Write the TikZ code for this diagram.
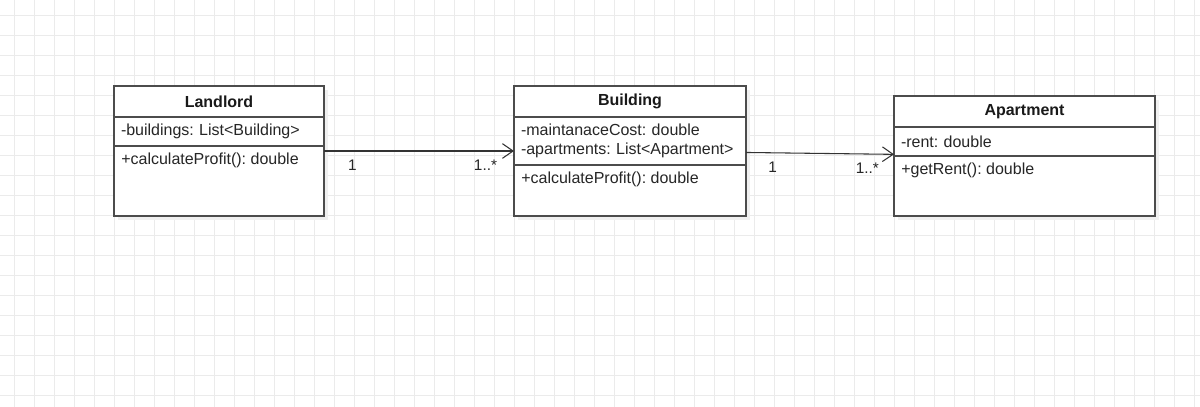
\documentclass[tikz,border=0pt]{standalone}
\usepackage{fontspec}
\setmainfont{Liberation Sans}
\frenchspacing
\usetikzlibrary{arrows.meta, positioning, calc, shadows}

\begin{document}
\begin{tikzpicture}[
    x=0.75pt, y=-0.75pt,
    gridline/.style={draw=black!8, line width=0.75pt},
    classbox/.style={
        rectangle, draw=black!70, line width=1.1pt, fill=white,
        general shadow={fill=black!6, shadow xshift=3pt, shadow yshift=-3pt},
        anchor=north west, inner sep=0pt, outer sep=0pt
    },
    classhead/.style={
        rectangle, draw=black!70, line width=1.1pt, anchor=north west, outer sep=0pt,
        minimum height=23.25pt, text width=#1, align=center, inner xsep=5.25pt,
        font=\fontsize{12}{14.5}\selectfont\bfseries, text=black!90
    },
    classattr/.style={
        rectangle, draw=black!70, line width=1.1pt, anchor=north west, outer sep=0pt,
        text width=#1, align=left, inner xsep=5.25pt, inner ysep=0pt,
        font=\fontsize{12}{14.25}\selectfont, text=black!85
    },
    classops/.style={
        anchor=west, inner xsep=5.25pt,
        font=\fontsize{12}{14.25}\selectfont, text=black!85
    },
    assoc/.style={-{Straight Barb[length=8pt, width=11pt]}, draw=black!80, line width=0.8pt},
    mult/.style={font=\fontsize{11.5}{13}\selectfont, text=black!85, yshift=-10.5pt}
]

% Canvas and grid
\useasboundingbox (0,0) rectangle (1200,407);
\fill[white] (0,0) rectangle (1200,407);
\foreach \x in {14,34,...,1194} \draw[gridline] (\x,0) -- (\x,407);
\foreach \y in {15,35,...,395} \draw[gridline] (0,\y) -- (1200,\y);

% Class: Landlord
\node[classbox, minimum width=157.5pt, minimum height=97.5pt] (landlord) at (114,86) {};
\node[classhead=147pt] (landlordHead) at (landlord.north west) {Landlord};
\node[classattr=147pt, minimum height=21.75pt] (landlordAttr) at (landlordHead.south west) {-buildings: List<Building>};
\node[classops] (landlordOps) at ($(landlordAttr.south west)+(0,14)$) {+calculateProfit(): double};

% Class: Building
\node[classbox, minimum width=174pt, minimum height=97.5pt] (building) at (514,86) {};
\node[classhead=163.5pt] (buildingHead) at (building.north west) {Building};
\node[classattr=163.5pt, minimum height=36pt] (buildingAttr) at (buildingHead.south west) {-maintanaceCost: double\\-apartments: List<Apartment>};
\node[classops] (buildingOps) at ($(buildingAttr.south west)+(0,14)$) {+calculateProfit(): double};

% Class: Apartment
\node[classbox, minimum width=195.75pt, minimum height=90pt] (apartment) at (894,96) {};
\node[classhead=185.25pt] (apartmentHead) at (apartment.north west) {Apartment};
\node[classattr=185.25pt, minimum height=21.75pt] (apartmentAttr) at (apartmentHead.south west) {-rent: double};
\node[classops] (apartmentOps) at ($(apartmentAttr.south west)+(0,14)$) {+getRent(): double};

% Associations
\draw[assoc] (landlord) -- node[mult, pos=0.15] (m1) {1} node[mult, pos=0.85] (m2) {1..*} (building);
\draw[assoc] (building) -- node[mult, pos=0.18] (m3) {1} node[mult, pos=0.82] (m4) {1..*} (apartment);

\end{tikzpicture}
\end{document}
